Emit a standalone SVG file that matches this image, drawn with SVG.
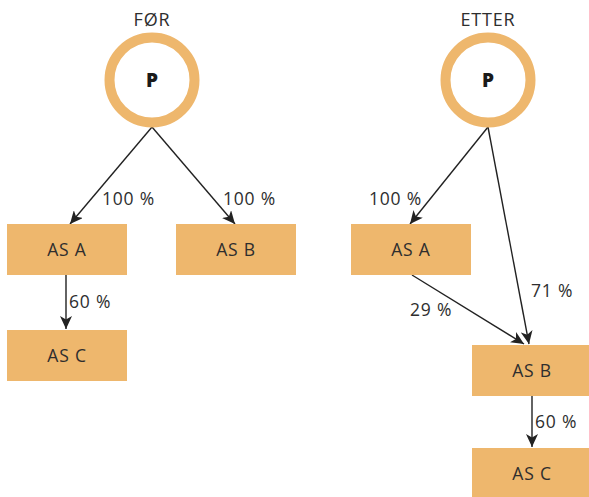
<svg xmlns="http://www.w3.org/2000/svg" width="589" height="497" viewBox="0 0 589 497">
  <style>
    .box { fill: #EEB76D; }
    .ring { fill: #FFFFFF; stroke: #EEB76D; stroke-width: 10; }
    .lbl { font-family: "Open Sans", Lato, "Liberation Sans", sans-serif; font-size: 17.5px; letter-spacing: 0.8px; fill: #2E2E2E; }
    .mid { text-anchor: middle; }
    .head { font-family: "Open Sans", Lato, "Liberation Sans", sans-serif; font-size: 18px; letter-spacing: 0.8px; fill: #2E2E2E; text-anchor: middle; }
    .p { font-family: "Open Sans", "Liberation Sans", sans-serif; font-size: 19px; font-weight: 800; fill: #1A1A1A; text-anchor: middle; }
    .edge { fill: none; stroke: #222222; stroke-width: 1.4; marker-end: url(#arrow); }
  </style>
  <defs>
    <marker id="arrow" markerUnits="userSpaceOnUse" markerWidth="14" markerHeight="12" refX="13" refY="6" orient="auto">
      <path d="M0,0 L13,6 L0,12 L3.5,6 Z" fill="#222222"/>
    </marker>
  </defs>

  <rect width="589" height="497" fill="#FFFFFF"/>

  <!-- titles -->
  <text class="head" x="152" y="26">FØR</text>
  <text class="head" x="488" y="26">ETTER</text>

  <!-- connectors -->
  <g id="edges">
    <path class="edge" d="M152,127 L70,224"/>
    <path class="edge" d="M152,127 L235,224"/>
    <path class="edge" d="M66,275 L66,329"/>
    <path class="edge" d="M488,127 L410,224"/>
    <path class="edge" d="M488,127 L529,344"/>
    <path class="edge" d="M412,275 L524,344"/>
    <path class="edge" d="M532,396 L532,447"/>
  </g>

  <!-- connector labels -->
  <g id="edge-labels">
    <text class="lbl" x="102" y="205">100 %</text>
    <text class="lbl" x="223" y="205">100 %</text>
    <text class="lbl" x="69" y="308">60 %</text>
    <text class="lbl" x="369" y="205">100 %</text>
    <text class="lbl" x="531" y="297">71 %</text>
    <text class="lbl" x="410" y="316">29 %</text>
    <text class="lbl" x="535" y="428">60 %</text>
  </g>

  <!-- before -->
  <g id="p-before">
    <circle class="ring" cx="152" cy="80" r="42.5"/>
    <text class="p" x="152" y="87">P</text>
  </g>
  <g id="before-as-a">
    <rect class="box" x="7" y="224" width="120" height="51"/>
    <text class="lbl mid" x="67" y="256">AS A</text>
  </g>
  <g id="before-as-b">
    <rect class="box" x="176" y="224" width="120" height="51"/>
    <text class="lbl mid" x="236" y="256">AS B</text>
  </g>
  <g id="before-as-c">
    <rect class="box" x="7" y="330" width="120" height="51"/>
    <text class="lbl mid" x="67" y="362">AS C</text>
  </g>

  <!-- after -->
  <g id="p-after">
    <circle class="ring" cx="488" cy="80" r="42.5"/>
    <text class="p" x="488" y="87">P</text>
  </g>
  <g id="after-as-a">
    <rect class="box" x="351" y="224" width="120" height="51"/>
    <text class="lbl mid" x="411" y="256">AS A</text>
  </g>
  <g id="after-as-b">
    <rect class="box" x="472" y="345" width="120" height="51"/>
    <text class="lbl mid" x="532" y="377">AS B</text>
  </g>
  <g id="after-as-c">
    <rect class="box" x="472" y="448" width="120" height="51"/>
    <text class="lbl mid" x="532" y="480">AS C</text>
  </g>
</svg>
